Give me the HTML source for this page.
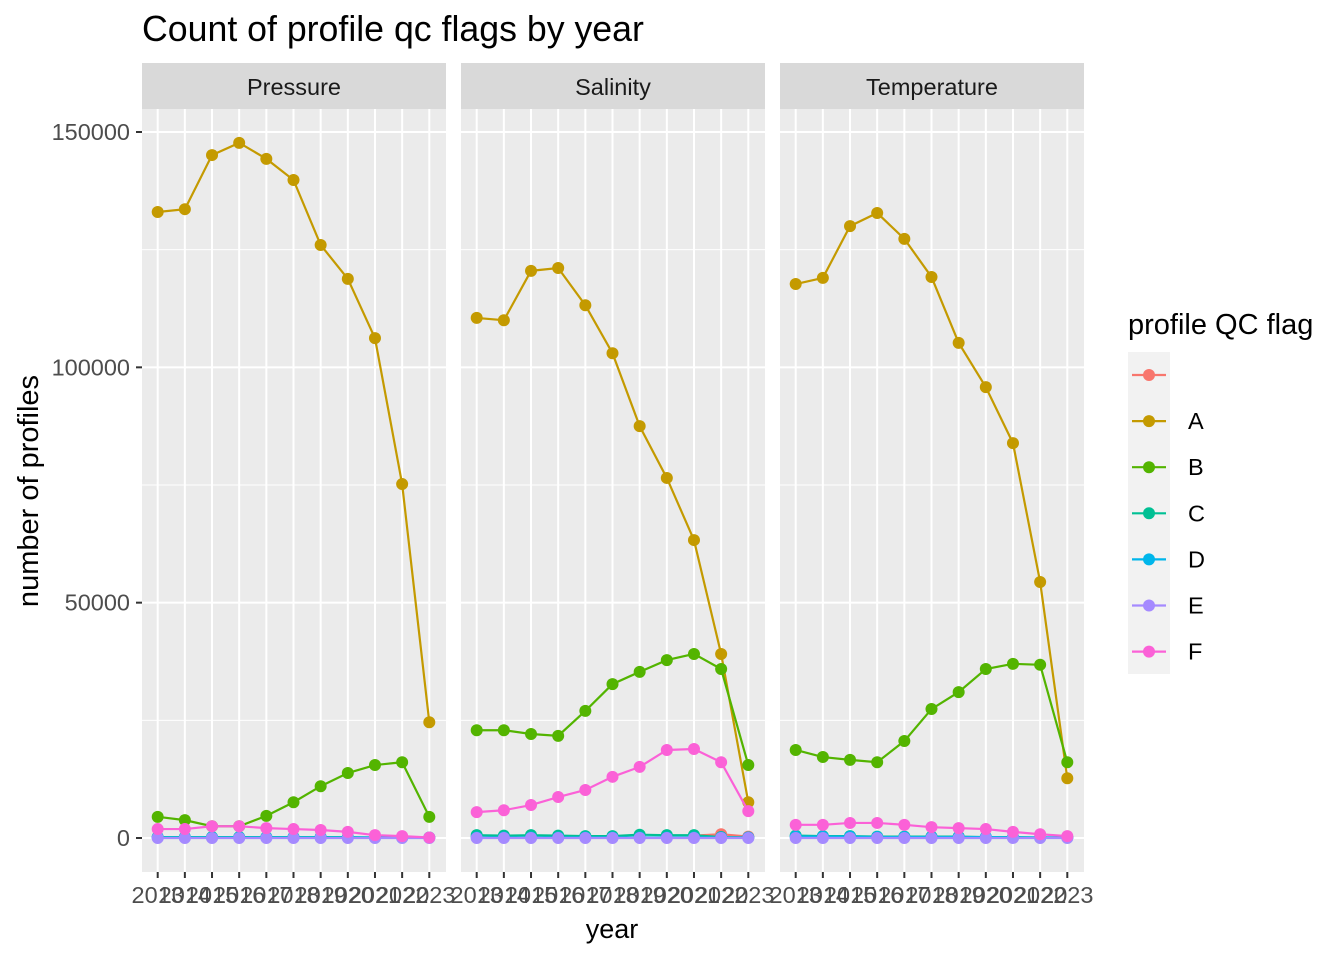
<!DOCTYPE html>
<html><head><meta charset="utf-8"><style>
body{margin:0;background:#fff;}
svg text{font-family:"Liberation Sans",sans-serif;}
</style></head><body>
<svg id="chart" width="1344" height="960" xmlns="http://www.w3.org/2000/svg">
<text x="142" y="41" font-size="35.7" fill="#000">Count of profile qc flags by year</text>
<text x="612" y="938" font-size="27" text-anchor="middle">year</text>
<text transform="translate(38,491) rotate(-90)" font-size="29" text-anchor="middle">number of profiles</text>
<g id="panels"></g>
<g id="legend"></g>
</svg>
<script>
const years = [2013,2014,2015,2016,2017,2018,2019,2020,2021,2022,2023];
const flags = ["", "A","B","C","D","E","F"];
const colors = ["#F8766D","#C49A00","#53B400","#00C094","#00B6EB","#A58AFF","#FB61D7"];
const panelNames = ["Pressure","Salinity","Temperature"];
const yTicks = [0,50000,100000,150000];
const yTickLabels = ["0","50000","100000","150000"];
// values in thousands
const pressureBlank = [null,null,null,null,null,null,null,null,null,null,null];
const pressureA = [133.0,133.6,145.1,147.7,144.3,139.8,126.0,118.8,106.2,75.2,24.6];
const pressureB = [4.5,3.8,2.5,2.5,4.7,7.6,11.0,13.8,15.5,16.1,4.5];
const pressureC = [0.2,0.2,0.2,0.2,0.2,0.2,0.2,0.2,0.1,0.1,0.1];
const pressureD = [0.1,0.1,0.1,0.1,0.1,0.1,0.1,0.1,0.1,0.1,0.1];
const pressureE = [0,0,0,0,0,0,0,0,0,0,0];
const pressureF = [1.9,1.9,2.5,2.5,2.1,1.9,1.7,1.3,0.6,0.4,0.1];
const salinityBlank = [null,null,null,null,null,null,null,null,0.5,0.8,0.3];
const salinityA = [110.5,110.0,120.5,121.1,113.2,103.0,87.5,76.5,63.3,39.1,7.6];
const salinityB = [22.9,22.9,22.1,21.7,27.0,32.7,35.3,37.8,39.1,35.9,15.5];
const salinityC = [0.6,0.5,0.6,0.5,0.4,0.4,0.7,0.6,0.6,0.2,0.1];
const salinityD = [0.1,0.1,0.1,0.1,0.1,0.1,0.1,0.1,0.1,0.1,0.1];
const salinityE = [0,0,0,0,0,0,0,0,0,0,0];
const salinityF = [5.5,5.9,7.0,8.7,10.2,13.0,15.1,18.7,18.9,16.1,5.7];
const temperatureBlank = [null,null,null,null,null,null,null,null,null,null,null];
const temperatureA = [117.7,119.0,130.0,132.8,127.3,119.2,105.2,95.8,83.9,54.4,12.7];
const temperatureB = [18.7,17.2,16.6,16.1,20.6,27.4,31.0,35.9,37.0,36.8,16.1];
const temperatureC = [0.5,0.4,0.4,0.3,0.3,0.3,0.3,0.2,0.2,0.1,0.1];
const temperatureD = [0.3,0.3,0.3,0.2,0.2,0.2,0.2,0.2,0.1,0.1,0.1];
const temperatureE = [0,0,0,0,0,0,0,0,0,0,0];
const temperatureF = [2.8,2.8,3.2,3.2,2.8,2.3,2.1,1.9,1.3,0.8,0.4];

const series = [
 [pressureBlank,pressureA,pressureB,pressureC,pressureD,pressureE,pressureF],
 [salinityBlank,salinityA,salinityB,salinityC,salinityD,salinityE,salinityF],
 [temperatureBlank,temperatureA,temperatureB,temperatureC,temperatureD,temperatureE,temperatureF]
];
(function(){
const NS="http://www.w3.org/2000/svg";
function mk(tag,attrs,parent){const e=document.createElementNS(NS,tag);for(const k in attrs)e.setAttribute(k,attrs[k]);parent.appendChild(e);return e;}
const panelX=[142,461,780], panelW=304, pTop=109, pBottom=872, stripTop=63;
function y(v){return 838 - v/150000*706;}
const g=document.getElementById("panels");
yTicks.forEach((t,i)=>{
  const tl=mk("text",{x:130,y:y(t)+8,"font-size":23.5,fill:"#4d4d4d","text-anchor":"end"},g);
  tl.textContent=yTickLabels[i];
  
  
  const tk=mk("line",{x1:136,x2:142,y1:y(t),y2:y(t),stroke:"#333","stroke-width":2},g);
  
  
});
panelNames.forEach((pn,p)=>{
  const x0=panelX[p];
  function x(yr){return x0+15.7+(yr-2013)*27.16;}
  const pg=mk("g",{},g);
  
  
  mk("rect",{x:x0,y:stripTop,width:panelW,height:pTop-stripTop,fill:"#d9d9d9"},pg);
  const st=mk("text",{x:x0+panelW/2,y:95,"font-size":23.5,fill:"#1a1a1a","text-anchor":"middle"},pg);
  st.textContent=pn;
  
  
  mk("rect",{x:x0,y:pTop,width:panelW,height:pBottom-pTop,fill:"#ebebeb"},pg);
  for(let t=25000;t<=150000;t+=50000) mk("line",{x1:x0,x2:x0+panelW,y1:y(t),y2:y(t),stroke:"#fff","stroke-width":1},pg);
  yTicks.forEach(t=>mk("line",{x1:x0,x2:x0+panelW,y1:y(t),y2:y(t),stroke:"#fff","stroke-width":2},pg));
  years.forEach(yr=>{
    mk("line",{x1:x(yr),x2:x(yr),y1:pTop,y2:pBottom,stroke:"#fff","stroke-width":2},pg);
    mk("line",{x1:x(yr),x2:x(yr),y1:pBottom,y2:pBottom+6,stroke:"#333","stroke-width":2},pg);
    const tl=mk("text",{x:x(yr),y:903,"font-size":23.5,fill:"#4d4d4d","text-anchor":"middle"},pg);
    tl.textContent=yr;
    
    
  });
  series[p].forEach((vals,si)=>{
    const sg=mk("g",{},pg);
    
    
    let d="";let pen=false;
    vals.forEach((v,i)=>{ if(v==null){pen=false;return;} d+=(pen?"L":"M")+x(years[i])+","+y(v*1000);pen=true;});
    if(d) mk("path",{d:d,fill:"none",stroke:colors[si],"stroke-width":2.2},sg);
    vals.forEach((v,i)=>{ if(v==null)return;
      const c=mk("circle",{cx:x(years[i]),cy:y(v*1000),r:6,fill:colors[si]},sg);
      
      
    });
  });
});
const lg=document.getElementById("legend");
const lt=mk("text",{x:1128,y:334,"font-size":29},lg);
lt.textContent="profile QC flag";


mk("rect",{x:1128,y:352,width:42,height:322,fill:"#f2f2f2"},lg);
flags.forEach((f,i)=>{
  const cy=375+i*46.1;
  const eg=mk("g",{},lg);
  
  
  mk("line",{x1:1132,x2:1166,y1:cy,y2:cy,stroke:colors[i],"stroke-width":2.2},eg);
  mk("circle",{cx:1149,cy:cy,r:6,fill:colors[i]},eg);
  const t=mk("text",{x:1188,y:cy+8,"font-size":23.5},eg);
  t.textContent=f;
});
})();
</script>
</body></html>
